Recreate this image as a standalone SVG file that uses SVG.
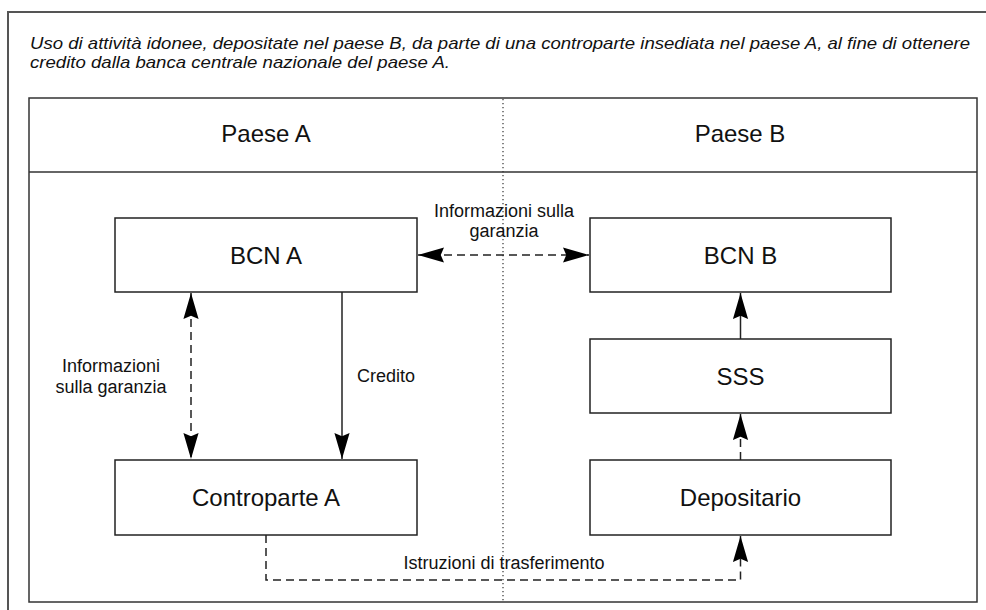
<svg xmlns="http://www.w3.org/2000/svg" width="986" height="610" viewBox="0 0 986 610">
<style>
  .frame{fill:none;stroke:#555;stroke-width:2}
  .inner{fill:none;stroke:#333;stroke-width:1.5}
  .box{fill:#fff;stroke:#222;stroke-width:1.5}
  .lbl{font-family:"Liberation Sans",Arial,sans-serif;font-size:24px;fill:#111;text-anchor:middle}
  .sm{font-family:"Liberation Sans",Arial,sans-serif;font-size:18px;fill:#111}
  .title{font-family:"Liberation Sans",Arial,sans-serif;font-size:16.5px;font-style:italic;fill:#111}
  .solid{fill:none;stroke:#222;stroke-width:1.5}
  .dash{fill:none;stroke:#222;stroke-width:1.5;stroke-dasharray:8,5}
  .dot{fill:none;stroke:#333;stroke-width:1.2;stroke-dasharray:1.2,2.8}
</style>
<defs>
  <marker id="ah" markerUnits="userSpaceOnUse" markerWidth="26" markerHeight="16" viewBox="0 0 24 14" refX="24" refY="7" orient="auto-start-reverse">
    <path d="M0,0 L24,7 L0,14 L3,7 z" fill="#000"/>
  </marker>
</defs>
<rect x="0" y="0" width="986" height="610" fill="#fff"/>
<g id="outer-frame">
  <path class="frame" d="M8,620 V12 H996"/>
</g>
<g id="title">
  <text class="title" x="30" y="49" textLength="940" lengthAdjust="spacingAndGlyphs">Uso di attività idonee, depositate nel paese B, da parte di una controparte insediata nel paese A, al fine di ottenere</text>
  <text class="title" x="30" y="68" textLength="420" lengthAdjust="spacingAndGlyphs">credito dalla banca centrale nazionale del paese A.</text>
</g>
<g id="inner-frame">
  <rect class="inner" x="29" y="98" width="948" height="504"/>
  <line class="inner" x1="29" y1="172" x2="977" y2="172"/>
  <line class="dot" x1="503" y1="99" x2="503" y2="601"/>
  <text class="lbl" x="266" y="142">Paese A</text>
  <text class="lbl" x="740" y="142">Paese B</text>
</g>
<g id="connectors">
  <line class="dash" x1="418" y1="255" x2="589" y2="255" marker-start="url(#ah)" marker-end="url(#ah)"/>
  <text class="sm" x="504" y="217" text-anchor="middle">Informazioni sulla</text>
  <text class="sm" x="504" y="237" text-anchor="middle">garanzia</text>
  <line class="dash" x1="191" y1="293" x2="191" y2="459" marker-start="url(#ah)" marker-end="url(#ah)"/>
  <text class="sm" x="111" y="372" text-anchor="middle">Informazioni</text>
  <text class="sm" x="111" y="393" text-anchor="middle">sulla garanzia</text>
  <line class="solid" x1="342" y1="292" x2="342" y2="459" marker-end="url(#ah)"/>
  <text class="sm" x="357" y="382">Credito</text>
  <line class="solid" x1="740.5" y1="339" x2="740.5" y2="293" marker-end="url(#ah)"/>
  <line class="dash" x1="740.5" y1="460" x2="740.5" y2="414" marker-end="url(#ah)"/>
  <path class="dash" d="M266,535 V580 H740.5 V536" marker-end="url(#ah)"/>
  <text class="sm" x="504" y="569" text-anchor="middle">Istruzioni di trasferimento</text>
</g>
<g id="node-bcn-a">
  <rect class="box" x="115" y="218" width="302" height="74"/>
  <text class="lbl" x="266" y="264">BCN A</text>
</g>
<g id="node-bcn-b">
  <rect class="box" x="590" y="218" width="301" height="74"/>
  <text class="lbl" x="740.5" y="264">BCN B</text>
</g>
<g id="node-sss">
  <rect class="box" x="590" y="339" width="301" height="74"/>
  <text class="lbl" x="740.5" y="385">SSS</text>
</g>
<g id="node-controparte-a">
  <rect class="box" x="115" y="460" width="302" height="75"/>
  <text class="lbl" x="266" y="506">Controparte A</text>
</g>
<g id="node-depositario">
  <rect class="box" x="590" y="460" width="301" height="75"/>
  <text class="lbl" x="740.5" y="506">Depositario</text>
</g>
</svg>
